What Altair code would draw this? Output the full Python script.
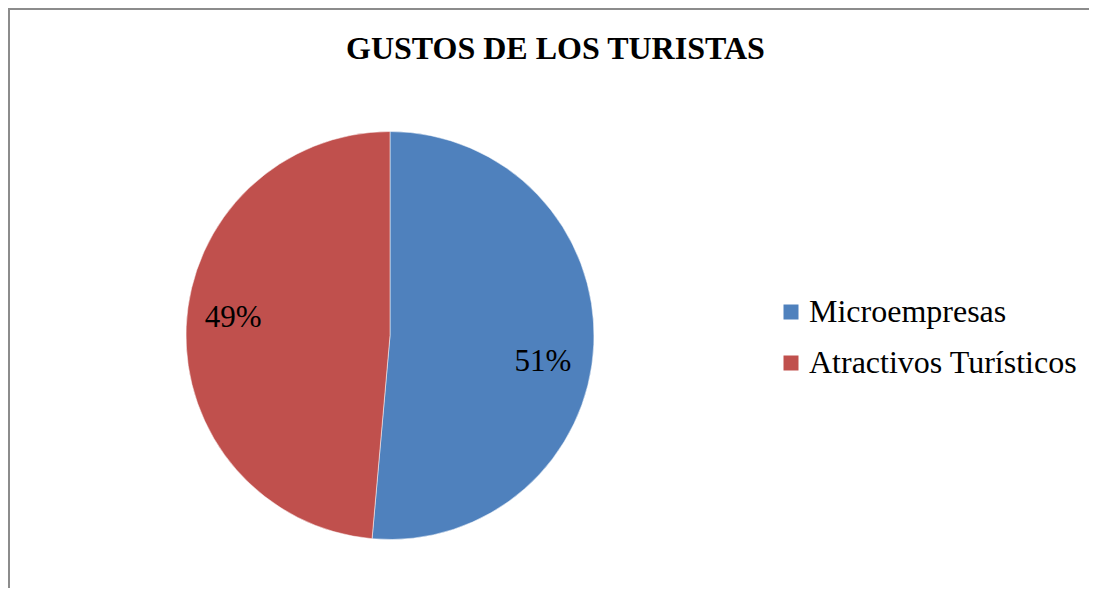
import math
import altair as alt
import pandas as pd

categories = ["Microempresas", "Atractivos Turísticos"]
values = [51.4, 48.6]
colors = ["#4F81BD", "#C0504D"]
title_text = "GUSTOS DE LOS TURISTAS"

df = pd.DataFrame({
    "cat": categories,
    "val": values,
    "ord": list(range(len(categories))),
})
df["label"] = [f"{round(v)}%" for v in values]
total = float(sum(values))

W, H = 1081, 580
CX, CY, R = 382, 327.5, 204
FONT = "Liberation Serif"

color_scale = alt.Scale(domain=categories, range=colors)

pie = alt.Chart(df).mark_arc(outerRadius=R, stroke="white", strokeWidth=0.5).encode(
    theta=alt.Theta("val:Q", stack=True),
    order=alt.Order("ord:Q"),
    x=alt.value(CX),
    y=alt.value(CY),
    color=alt.Color(
        "cat:N",
        scale=color_scale,
        sort=categories,
        legend=alt.Legend(
            title=None,
            orient="none",
            legendX=767,
            legendY=288,
            symbolType="square",
            symbolSize=225,
            symbolStrokeWidth=0,
            labelFont=FONT,
            labelFontSize=32,
            labelColor="black",
            rowPadding=19,
            labelOffset=2,
            labelLimit=400,
        ),
    ),
)

text_base = (
    alt.Chart(df)
    .transform_window(cum="sum(val)", sort=[alt.SortField("ord")], frame=[None, 0])
    .transform_calculate(mid="datum.cum - datum.val / 2")
)

def label_layer(cat, dx, dy):
    return (
        text_base.transform_filter(alt.datum.cat == cat)
        .mark_text(radius=154, font=FONT, fontSize=31, color="black", dx=dx, dy=dy)
        .encode(
            theta=alt.Theta(
                "mid:Q", stack=None,
                scale=alt.Scale(domain=[0, total], range=[0, 2 * math.pi]),
            ),
            x=alt.value(CX),
            y=alt.value(CY),
            text="label:N",
        )
    )

lab_micro = label_layer(categories[0], -1, 20)
lab_atr = label_layer(categories[1], -3, -11)

# Chart frame (left and top edges visible in the reference)
frame_left = alt.Chart(df).mark_rule(color="#8c8c8c", strokeWidth=2).encode(
    x=alt.value(1), y=alt.value(0), y2=alt.value(H)
)
frame_top = alt.Chart(df).mark_rule(color="#8c8c8c", strokeWidth=2).encode(
    x=alt.value(0), x2=alt.value(W), y=alt.value(1)
)

chart = alt.layer(pie, lab_micro, lab_atr, frame_left, frame_top).resolve_scale(
    theta="independent"
).properties(
    width=W,
    height=H,
    padding=0,
    autosize=alt.AutoSizeParams(type="none"),
    title=alt.TitleParams(
        title_text,
        font=FONT,
        fontSize=32,
        fontWeight="bold",
        color="black",
        anchor="start",
        orient="top",
        offset=-59,
        dx=339,
    ),
).configure_view(stroke=None)

chart.save("out.html", embed_options={"renderer": "svg", "actions": False})
